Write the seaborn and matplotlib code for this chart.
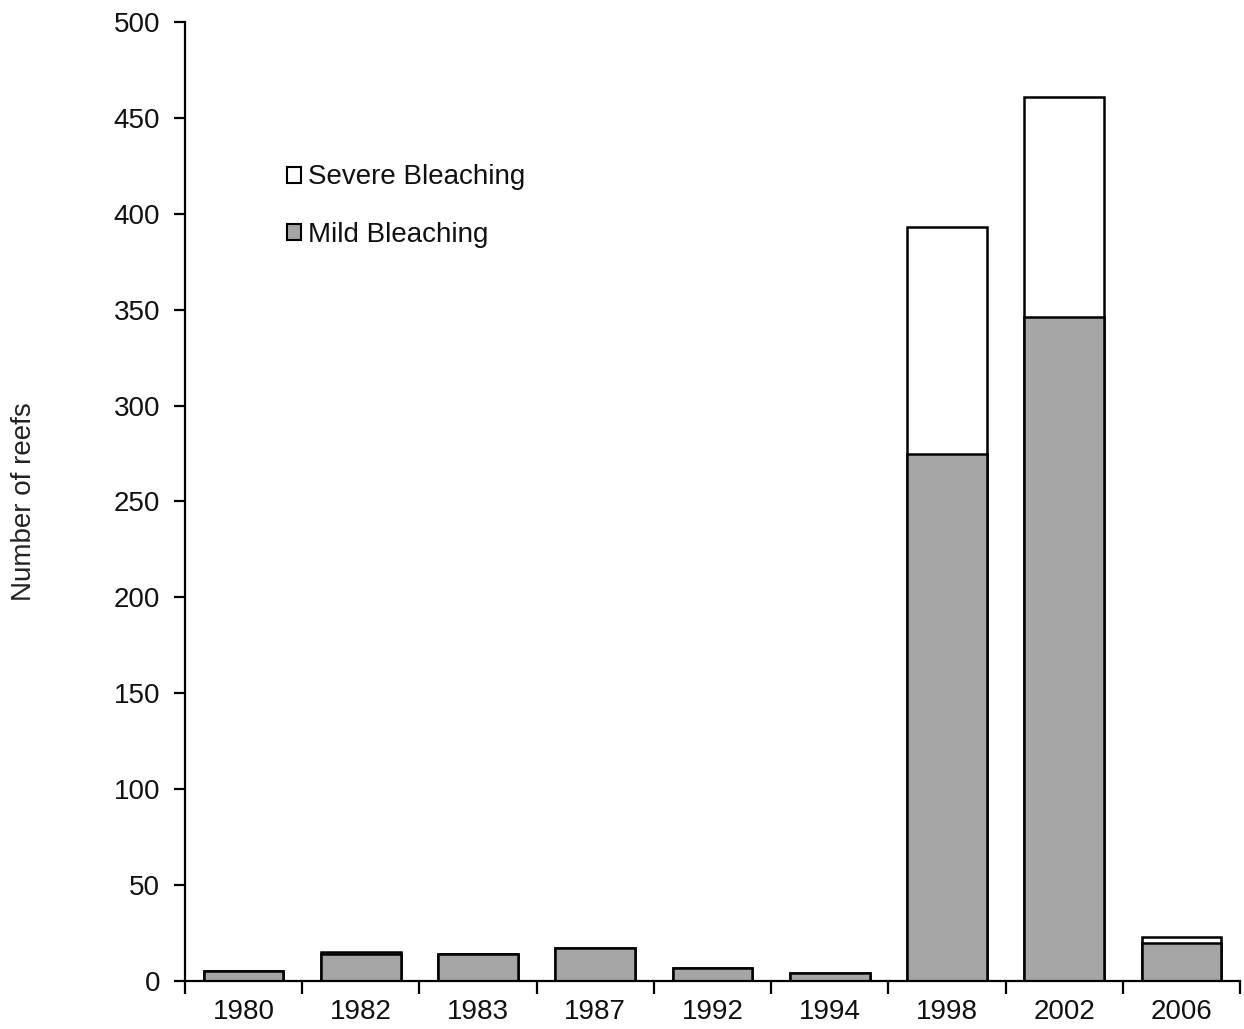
import matplotlib
matplotlib.use("Agg")
import matplotlib.pyplot as plt
from matplotlib.patches import Patch
import seaborn as sns
import pandas as pd
import numpy as np

years = ["1980", "1982", "1983", "1987", "1992", "1994", "1998", "2002", "2006"]
mild = [5, 14, 14, 17, 7, 4, 275, 346, 20]
severe = [0, 1, 0, 0, 0, 0, 118, 115, 3]
y_ticks = [0, 50, 100, 150, 200, 250, 300, 350, 400, 450, 500]

sns.set_theme(style="white")
plt.rcParams['font.family'] = ['Liberation Sans', 'DejaVu Sans']

df = pd.DataFrame({"year": years, "mild": mild, "severe": severe})
df["total"] = df["mild"] + df["severe"]

fig = plt.figure(figsize=(12.44, 10.29), dpi=100)
ax = fig.add_axes([185/1244, 48/1029, 1055/1244, 959/1029])

sns.barplot(data=df, x="year", y="total", color="white", edgecolor="black",
            linewidth=1.8, width=0.68, saturation=1, ax=ax)
sns.barplot(data=df, x="year", y="mild", color="#a5a5a5", edgecolor="black",
            linewidth=1.8, width=0.68, saturation=1, ax=ax)

ax.set_xlim(-0.5, len(years) - 0.5)
ax.set_ylim(0, 500)
ax.set_yticks(y_ticks)
ax.set_xlabel("")
ax.set_ylabel("Number of reefs", fontsize=20, labelpad=55, color="#222222")

for s in ["top", "right"]:
    ax.spines[s].set_visible(False)
for s in ["left", "bottom"]:
    ax.spines[s].set_color("black")
    ax.spines[s].set_linewidth(1.6)

ax.tick_params(axis="y", which="major", direction="out", length=8, width=1.6,
               color="black", labelsize=20, pad=10, left=True)
ax.tick_params(axis="x", which="major", length=0, labelsize=20, pad=13)
ax.set_xticks(np.arange(-0.5, len(years) + 0.5, 1), minor=True)
ax.tick_params(axis="x", which="minor", direction="out", length=9, width=1.6,
               color="black", bottom=True)
for lbl in ax.get_xticklabels() + ax.get_yticklabels():
    lbl.set_color("#111111")

handles = [Patch(facecolor="white", edgecolor="black", linewidth=1.5, label="Severe Bleaching"),
           Patch(facecolor="#a5a5a5", edgecolor="black", linewidth=1.5, label="Mild Bleaching")]
leg = ax.legend(handles=handles, loc="upper left", bbox_to_anchor=(0.086, 0.863),
                frameon=False, fontsize=20, handlelength=0.5, handleheight=0.5,
                handletextpad=0.25, labelspacing=1.14, borderaxespad=0)
for t in leg.get_texts():
    t.set_color("#111111")

fig.savefig("out.png", dpi=100)
